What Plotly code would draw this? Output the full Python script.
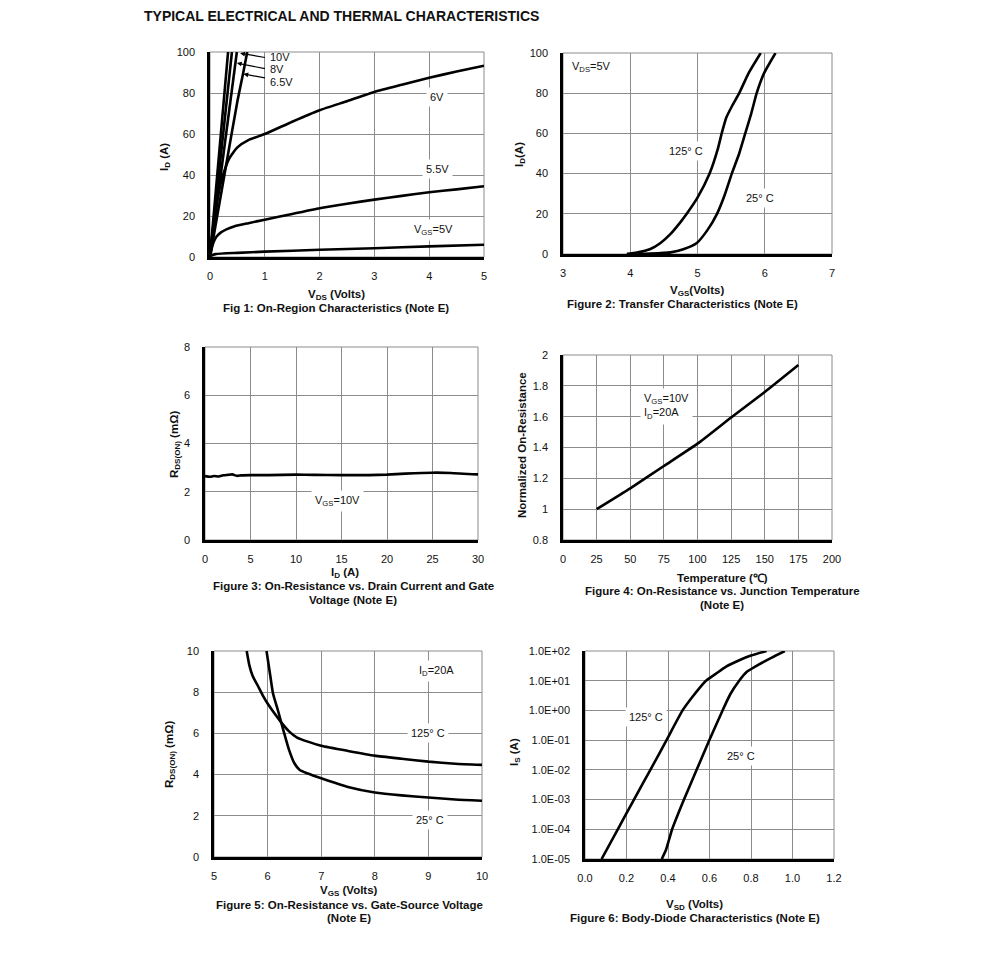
import plotly.graph_objects as go

# Page is 991x974; the browser body adds an 8px margin, so the figure is 16px smaller
PAGE_W, PAGE_H = 991, 974
OFF = 8
W, H = PAGE_W - 2 * OFF, PAGE_H - 2 * OFF
FONT = "Liberation Sans, Arial, sans-serif"
GRID = "#8c8c8c"
TXT = "#111111"

# ---------------- Data ----------------
# Fig 1: On-region characteristics (I_D vs V_DS)
f1_vds_10 = [0, 0.33]
f1_id_10 = [0, 100]
f1_vds_8 = [0, 0.40]
f1_id_8 = [0, 100]
f1_vds_7 = [0, 0.49]
f1_id_7 = [0, 100]
f1_vds_65 = [0, 0.25, 0.5, 0.6, 0.68]
f1_id_65 = [0, 38, 76, 89, 100]
f1_vds_6 = [0, 0.03, 0.07, 0.12, 0.18, 0.25, 0.35, 0.5, 0.7, 1, 1.5, 2, 2.5, 3, 3.5, 4, 4.5, 5]
f1_id_6 = [0, 8, 17, 26, 34, 41, 48, 53.5, 57, 60, 66, 71.6, 76, 80.5, 84, 87.4, 90.5, 93.3]
f1_vds_55 = [0, 0.03, 0.07, 0.12, 0.2, 0.3, 0.45, 0.7, 1, 1.5, 2, 2.5, 3, 3.5, 4, 4.5, 5]
f1_id_55 = [0, 4, 7.5, 10, 12, 13.5, 15, 16.5, 18.2, 21, 23.8, 26, 28, 29.8, 31.6, 33, 34.5]
f1_vds_5 = [0, 0.1, 0.5, 1, 2, 3, 4, 5]
f1_id_5 = [0.5, 1.4, 2.0, 2.6, 3.5, 4.3, 5.2, 6.0]

# Fig 2: Transfer characteristics
f2_vgs_125 = [3.95, 4.1, 4.3, 4.45, 4.6, 4.75, 4.84, 5.0, 5.18, 5.3, 5.36, 5.43, 5.52, 5.62, 5.76, 5.94]
f2_id_125 = [0, 0.7, 2.5, 5.5, 10, 16, 20, 28, 40, 52, 60, 68, 74, 80, 90, 100]
f2_vgs_25 = [3.95, 4.3, 4.6, 4.8, 4.99, 5.15, 5.29, 5.4, 5.51, 5.62, 5.71, 5.8, 5.88, 5.99, 6.16]
f2_id_25 = [0, 0.2, 0.8, 2.5, 5.5, 12, 20, 29, 40, 50, 60, 70, 80, 90, 100]

# Fig 3: R_DS(ON) vs I_D
f3_id = [0, 0.5, 1, 1.5, 2, 2.5, 3, 3.5, 4, 5, 7, 10, 12, 15, 18, 20, 22, 25, 27, 30]
f3_r = [2.65, 2.62, 2.65, 2.63, 2.68, 2.70, 2.72, 2.66, 2.68, 2.69, 2.69, 2.71, 2.70, 2.69,
        2.69, 2.71, 2.75, 2.79, 2.78, 2.72]

# Fig 4: normalized on-resistance vs temperature
f4_temp = [25, 50, 75, 100, 125, 150, 175]
f4_rn = [1.0, 1.135, 1.28, 1.425, 1.595, 1.76, 1.935]

# Fig 5: R_DS(ON) vs V_GS
f5_vgs_125 = [5.61, 5.66, 5.72, 5.82, 5.92, 6.0, 6.12, 6.25, 6.4, 6.55, 6.75, 7, 7.5, 8, 8.5, 9, 9.5, 10]
f5_r_125 = [10, 9.3, 8.8, 8.3, 7.8, 7.45, 7.0, 6.55, 6.1, 5.8, 5.6, 5.4, 5.15, 4.92, 4.77, 4.63, 4.53, 4.47]
f5_vgs_25 = [5.98, 6.05, 6.1, 6.2, 6.3, 6.4, 6.5, 6.6, 6.75, 7, 7.5, 8, 8.5, 9, 9.5, 10]
f5_r_25 = [10, 8.8, 7.95, 7.05, 6.1, 5.2, 4.55, 4.22, 4.05, 3.82, 3.4, 3.13, 2.99, 2.89, 2.79, 2.73]

# Fig 6: body-diode characteristics
f6_vsd_125 = [0.08, 0.158, 0.236, 0.315, 0.393, 0.47, 0.52, 0.583, 0.63, 0.68, 0.746, 0.8, 0.875]
f6_is_125 = [1e-5, 1e-4, 1e-3, 1e-2, 1e-1, 1, 3, 10, 17, 30, 50, 70, 100]
f6_vsd_25 = [0.37, 0.39, 0.42, 0.477, 0.538, 0.599, 0.663, 0.7, 0.743, 0.78, 0.82, 0.9, 0.963]
f6_is_25 = [1e-5, 2e-5, 1e-4, 1e-3, 1e-2, 1e-1, 1, 3.5, 10, 20, 30, 60, 100]
f6_tickvals = [1e-5, 1e-4, 1e-3, 1e-2, 1e-1, 1, 10, 100]
f6_ticktext = ["1.0E-05", "1.0E-04", "1.0E-03", "1.0E-02", "1.0E-01", "1.0E+00", "1.0E+01", "1.0E+02"]


def px(x):
    return (x - OFF) / W


def py(y):
    return 1 - (y - OFF) / H


fig = go.Figure()

LINE = dict(color="black", width=2.6, shape="spline", smoothing=0.5)


def add(x, y, n, name, spline=True):
    ln = dict(LINE)
    if not spline:
        ln["shape"] = "linear"
    sfx = "" if n == 1 else str(n)
    fig.add_trace(go.Scatter(x=x, y=y, mode="lines", line=ln, name=name,
                             xaxis="x" + sfx, yaxis="y" + sfx, showlegend=False,
                             hoverinfo="skip"))


add(f1_vds_10, f1_id_10, 1, "10V", False)
add(f1_vds_8, f1_id_8, 1, "8V", False)
add(f1_vds_7, f1_id_7, 1, "7V", False)
add(f1_vds_65, f1_id_65, 1, "6.5V")
add(f1_vds_6, f1_id_6, 1, "6V")
add(f1_vds_55, f1_id_55, 1, "5.5V")
add(f1_vds_5, f1_id_5, 1, "5V")
add(f2_vgs_125, f2_id_125, 2, "125C")
add(f2_vgs_25, f2_id_25, 2, "25C")
add(f3_id, f3_r, 3, "10V")
add(f4_temp, f4_rn, 4, "Rn")
add(f5_vgs_125, f5_r_125, 5, "125C")
add(f5_vgs_25, f5_r_25, 5, "25C")
add(f6_vsd_125, f6_is_125, 6, "125C")
add(f6_vsd_25, f6_is_25, 6, "25C")

panels = {
    1: ((210, 484), (52, 257)),
    2: ((563, 832), (53, 254)),
    3: ((205, 478), (347, 540)),
    4: ((563, 832), (355, 540)),
    5: ((214, 482), (651, 857)),
    6: ((585, 834), (651, 859)),
}

axcfg = {
    1: (dict(range=[0, 5], dtick=1, tick0=0), dict(range=[0, 100], dtick=20, tick0=0)),
    2: (dict(range=[3, 7], dtick=1, tick0=3), dict(range=[0, 100], dtick=20, tick0=0)),
    3: (dict(range=[0, 30], dtick=5, tick0=0), dict(range=[0, 8], dtick=2, tick0=0)),
    4: (dict(range=[0, 200], dtick=25, tick0=0), dict(range=[0.8, 2.0], dtick=0.2, tick0=0.8)),
    5: (dict(range=[5, 10], dtick=1, tick0=5), dict(range=[0, 10], dtick=2, tick0=0)),
    6: (dict(range=[0, 1.2], dtick=0.2, tick0=0, tickformat=".1f"),
        dict(type="log", range=[-5, 2], tickvals=f6_tickvals, ticktext=f6_ticktext)),
}

common = dict(showgrid=True, gridcolor=GRID, gridwidth=1, zeroline=False, showline=True,
              linecolor="black", linewidth=2.5, ticks="", fixedrange=True, automargin=False,
              tickfont=dict(family=FONT, size=11, color=TXT))

layout_axes = {}
shapes = []
for n, ((x0, x1), (y0, y1)) in panels.items():
    sfx = "" if n == 1 else str(n)
    xa = dict(common)
    xa.update(axcfg[n][0])
    xa.update(domain=[px(x0), px(x1)], anchor="y" + sfx, ticklabelstandoff=7)
    ya = dict(common)
    ya.update(axcfg[n][1])
    ya.update(domain=[py(y1), py(y0)], anchor="x" + sfx, ticklabelstandoff=10)
    layout_axes["xaxis" + sfx] = xa
    layout_axes["yaxis" + sfx] = ya
    shapes.append(dict(type="rect", xref="x" + sfx + " domain", yref="y" + sfx + " domain",
                       x0=0, x1=1, y0=0, y1=1, line=dict(color=GRID, width=1), layer="below"))

ann = []
BOLD_SIZE = 11.5


def text_px(x, y, t, size=BOLD_SIZE, bold=True, angle=0, xanchor="center"):
    if bold:
        t = "<b>" + t + "</b>"
    ann.append(dict(x=px(x), y=py(y), xref="paper", yref="paper", text=t, showarrow=False,
                    xanchor=xanchor, yanchor="middle", textangle=angle,
                    font=dict(family=FONT, size=size, color=TXT)))


def label(n, x, y, t, xanchor="center", align="center"):
    sfx = "" if n == 1 else str(n)
    ann.append(dict(x=x, y=y, xref="x" + sfx, yref="y" + sfx, text=t, showarrow=False,
                    bgcolor="white", borderpad=3, xanchor=xanchor, yanchor="middle", align=align,
                    font=dict(family=FONT, size=11, color=TXT)))


def arrow(n, tx, ty, hx, hy):
    sfx = "" if n == 1 else str(n)
    ann.append(dict(x=hx, y=hy, ax=tx, ay=ty, xref="x" + sfx, yref="y" + sfx,
                    axref="x" + sfx, ayref="y" + sfx, text="", showarrow=True,
                    arrowhead=2, arrowsize=0.8, arrowwidth=1.2, arrowcolor="black"))


def plain(n, x, y, t):
    sfx = "" if n == 1 else str(n)
    ann.append(dict(x=x, y=y, xref="x" + sfx, yref="y" + sfx, text=t, showarrow=False,
                    xanchor="left", yanchor="middle", font=dict(family=FONT, size=11, color=TXT)))


# Title
text_px(142, 16, "TYPICAL ELECTRICAL AND THERMAL CHARACTERISTICS", size=14, xanchor="left")

# Fig 1 texts
text_px(336, 295, "V<sub>DS</sub> (Volts)")
text_px(336, 308, "Fig 1: On-Region Characteristics (Note E)")
text_px(165, 157, "I<sub>D</sub> (A)", angle=-90)
label(1, 4.14, 78, "6V")
label(1, 4.16, 43, "5.5V")
label(1, 4.07, 13.2, "V<sub>GS</sub>=5V")
arrow(1, 1.03, 97.2, 0.55, 99.4)
arrow(1, 1.03, 91.7, 0.49, 94.6)
arrow(1, 1.03, 87.2, 0.61, 89.3)
plain(1, 1.05, 97.5, "10V")
plain(1, 1.05, 91.5, "8V")
plain(1, 1.05, 85.5, "6.5V")

# Fig 2 texts
text_px(697, 291, "V<sub>GS</sub>(Volts)")
text_px(682, 304, "Figure 2: Transfer Characteristics (Note E)")
text_px(520, 155, "I<sub>D</sub>(A)", angle=-90)
label(2, 3.42, 93, "V<sub>DS</sub>=5V")
label(2, 4.83, 51, "125° C")
label(2, 5.93, 28, "25° C")

# Fig 3 texts
text_px(345, 573, "I<sub>D</sub> (A)")
text_px(353, 586, "Figure 3: On-Resistance vs. Drain Current and Gate")
text_px(353, 600, "Voltage (Note E)")
text_px(175, 445, "R<sub>DS(ON)</sub> (mΩ)", angle=-90)
label(3, 14.6, 1.62, "V<sub>GS</sub>=10V")

# Fig 4 texts
text_px(722, 578, "Temperature (℃)")
text_px(722, 591, "Figure 4: On-Resistance vs. Junction Temperature")
text_px(722, 605, "(Note E)")
text_px(522, 445, "Normalized On-Resistance", angle=-90)
label(4, 57, 1.665, "V<sub>GS</sub>=10V<br>I<sub>D</sub>=20A", xanchor="left", align="left")

# Fig 5 texts
text_px(349, 891, "V<sub>GS</sub> (Volts)")
text_px(349, 905, "Figure 5: On-Resistance vs. Gate-Source Voltage")
text_px(349, 918, "(Note E)")
text_px(170, 755, "R<sub>DS(ON)</sub> (mΩ)", angle=-90)
label(5, 9.16, 9.03, "I<sub>D</sub>=20A")
label(5, 8.99, 6.02, "125° C")
label(5, 9.03, 1.8, "25° C")

# Fig 6 texts
text_px(694, 905, "V<sub>SD</sub> (Volts)")
text_px(695, 918, "Figure 6: Body-Diode Characteristics (Note E)")
text_px(515, 752, "I<sub>S</sub> (A)", angle=-90)
label(6, 0.294, -0.22, "125° C")
label(6, 0.752, -1.54, "25° C")

fig.update_layout(
    template="none",
    width=W, height=H, margin=dict(l=0, r=0, t=0, b=0, pad=0, autoexpand=False),
    paper_bgcolor="white", plot_bgcolor="white",
    font=dict(family=FONT, size=11, color=TXT),
    annotations=ann, shapes=shapes, showlegend=False,
    **layout_axes,
)

fig.write_html("out.html")
